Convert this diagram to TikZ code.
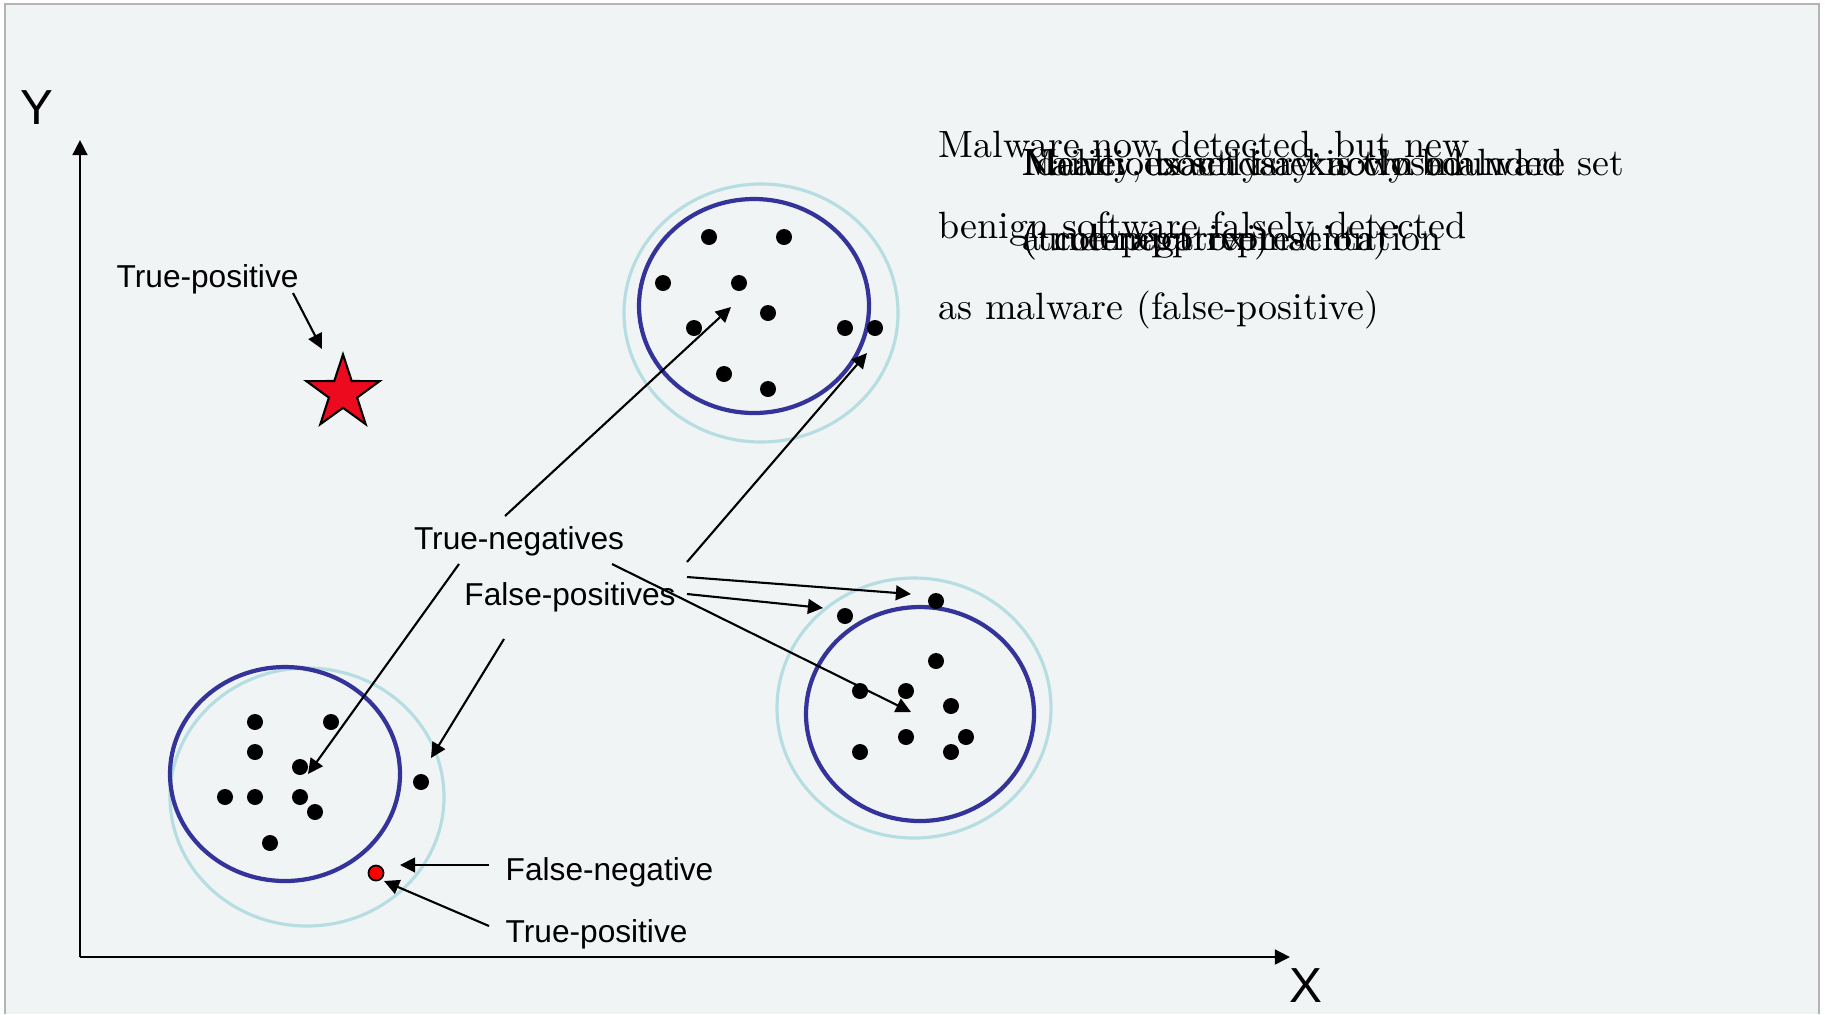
\documentclass[tikz,border=0pt]{standalone}
\usepackage{fontspec}
\setsansfont{Liberation Sans}
\usepackage{tikz}
\usetikzlibrary{arrows.meta,shapes.geometric}
\definecolor{slidebg}{RGB}{240,244,245}
\definecolor{framec}{RGB}{180,180,180}
\definecolor{ringdark}{RGB}{51,51,153}
\definecolor{ringlight}{RGB}{182,222,226}
\definecolor{starred}{RGB}{238,10,30}

\begin{document}
\begin{tikzpicture}[x=0.01cm,y=-0.01cm,>={Triangle[length=4.3pt,width=4.2pt]},
    pt/.style={circle,fill=black,minimum size=1.6mm,inner sep=0pt},
    lbl/.style={font=\sffamily\fontsize{9}{11}\selectfont,inner sep=0pt},
    axlbl/.style={font=\sffamily\fontsize{14}{16}\selectfont,inner sep=0pt},
    note/.style={font=\fontsize{10.8}{13}\selectfont,inner sep=0pt,anchor=base west},
    arr/.style={->,line width=0.6pt},
    outer/.style={ringlight,line width=0.9pt},
    inner/.style={ringdark,line width=1.2pt}]
  \useasboundingbox (0,0) rectangle (1825,1014);
  % slide background and frame
  \fill[slidebg] (5,4) rectangle (1819,1014);
  \draw[framec,line width=0.6pt] (5,1014) -- (5,4) -- (1819,4) -- (1819,1014);
  % axes
  \coordinate (O) at (80,957);
  \coordinate (ytop) at (80,140);
  \coordinate (xend) at (1290,957);
  \draw[->,line width=0.7pt] (O) -- (ytop);
  \draw[->,line width=0.7pt] (O) -- (xend);
  \node[axlbl] (ylab) at (37,108) {Y};
  \node[axlbl] (xlab) at (1306,986) {X};
  % clusters: outer and inner boundary
  \draw[outer] (761,313) ellipse [x radius=137, y radius=129];
  \draw[inner] (754,306) ellipse [x radius=115, y radius=107];
  \draw[outer] (914,708) ellipse [x radius=137, y radius=130];
  \draw[inner] (920,714) ellipse [x radius=114, y radius=107];
  \draw[outer] (307,797) ellipse [x radius=137, y radius=129];
  \draw[inner] (285,774) ellipse [x radius=115, y radius=107];
  % samples
  \foreach \x/\y/\n in {709/237/t1, 784/237/t2, 663/283/t3, 739/283/t4, 768/313/t5,
      694/328/t6, 845/328/t7, 875/328/t8, 724/374/t9, 768/389/t10,
      936/601/r1, 845/616/r2, 936/661/r3, 860/691/r4, 906/691/r5,
      951/706/r6, 906/737/r7, 966/737/r8, 860/752/r9, 951/752/r10,
      255/722/l1, 331/722/l2, 255/752/l3, 300/767/l4, 225/797/l5,
      255/797/l6, 300/797/l7, 315/812/l8, 270/843/l9, 421/782/l10}
    \node[pt] (\n) at (\x,\y) {};
  \node[circle,draw=black,fill=red,line width=0.5pt,minimum size=1.5mm,inner sep=0pt] (red) at (376,873) {};
  \node[star,star points=5,star point ratio=2.6,draw=black,fill=starred,line width=0.6pt,
      minimum size=0.77cm,inner sep=0pt] (star) at (343,393) {};
  % labels
  \node[lbl,anchor=west] (tposA) at (116,279) {True-positive};
  \node[lbl] (tneg) at (519,541) {True-negatives};
  \node[lbl] (fpos) at (570,597) {False-positives};
  \node[lbl,anchor=west] (fneg) at (505,872) {False-negative};
  \node[lbl,anchor=west] (tposB) at (505,934) {True-positive};
  % arrow ends
  \coordinate (s1) at (293,293);   \coordinate (e1) at (322,349);
  \coordinate (s2) at (505,516);   \coordinate (e2) at (731,307);
  \coordinate (s3) at (459,564);   \coordinate (e3) at (308,774);
  \coordinate (s4) at (687,562);   \coordinate (e4) at (867,353);
  \coordinate (s5) at (687,577);   \coordinate (e5) at (911,594);
  \coordinate (s6) at (687,594);   \coordinate (e6) at (823,608);
  \coordinate (s7) at (612,564);   \coordinate (e7) at (911,712);
  \coordinate (s8) at (504,639);   \coordinate (e8) at (431,758);
  \coordinate (s9) at (489,865);   \coordinate (e9) at (400,865);
  \coordinate (s10) at (489,926);  \coordinate (e10) at (384,881);
  \foreach \i in {1,...,10}
    \draw[arr] (s\i) -- (e\i);
  % slide text (builds shown on top of each other)
  \foreach \t [count=\i] in {{Malware now detected, but new},{benign software falsely detected},{as malware (false-positive)}}
    \node[note] (fp\i) at (938,{157+81*(\i-1)}) {\t};
  \node[note] (na1) at (1022,175) {Naive: exactly a known malware set};
  \node[note] (na2) at (1022,250) {(underapproximation)};
  \node[note] (ma1) at (1022,175) {Malicious set is exactly bounded};
  \node[note] (ma2) at (1022,250) {a compact representation};
  \node[note] (id1) at (1022,175) {Ideally, boundary is closed};
  \node[note] (id2) at (1022,250) {(true-negative)};
\end{tikzpicture}
\end{document}
